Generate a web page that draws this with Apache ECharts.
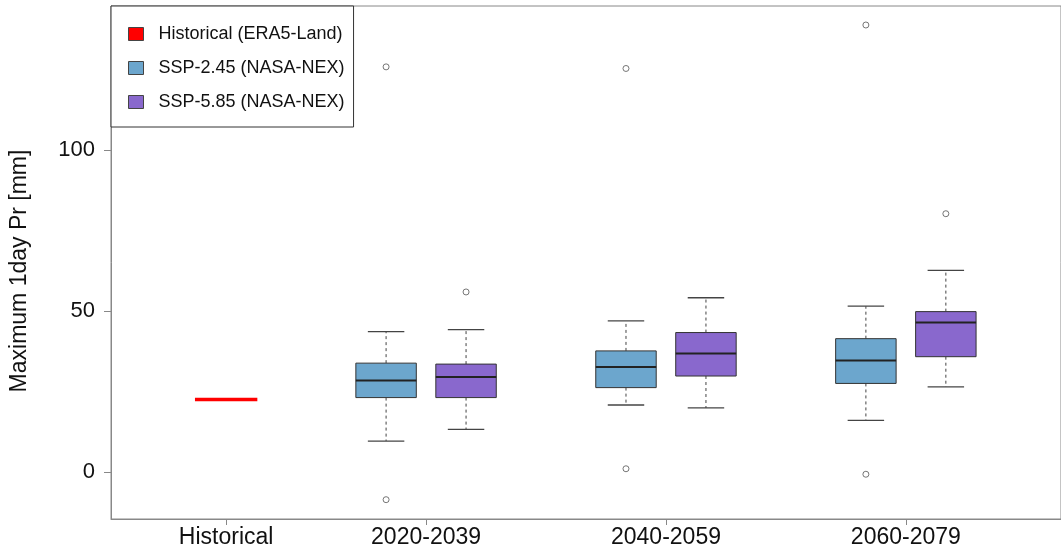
<!DOCTYPE html>
<html>
<head>
<meta charset="utf-8">
<script src="https://cdn.jsdelivr.net/npm/echarts@6/dist/echarts.min.js"></script>
<style>
  html, body { margin: 0; padding: 0; background: #fff; }
  #chart { width: 1061px; height: 551px; }
</style>
</head>
<body>
<div id="chart"></div>
<script>
// Annual maximum 1-day precipitation: historical reference vs. projections
const periods = ['2020-2039', '2040-2059', '2060-2079'];
const historicalLabel = 'Historical';
const historicalValue = 22.5;

// five-number summaries: [lower whisker, Q1, median, Q3, upper whisker]
const ssp245Stats = [
  [9.6, 23.1, 28.4, 33.8, 43.6],
  [20.8, 26.2, 32.6, 37.6, 46.9],
  [16.0, 27.5, 34.6, 41.4, 51.5]
];
const ssp585Stats = [
  [13.2, 23.1, 29.5, 33.5, 44.2],
  [19.9, 29.8, 36.8, 43.3, 54.1],
  [26.4, 35.8, 46.4, 49.8, 62.6]
];
// values beyond the whiskers
const ssp245Outliers = [[-8.6, 125.8], [1.0, 125.3], [-0.7, 138.8]];
const ssp585Outliers = [[55.9], [], [80.2]];

const yTicks = [0, 50, 100];
const yTitle = 'Maximum 1day Pr [mm]';
const seriesNames = ['Historical (ERA5-Land)', 'SSP-2.45 (NASA-NEX)', 'SSP-5.85 (NASA-NEX)'];
const colors = ['#FF0000', '#6CA6CD', '#8968CD'];

// x layout: historical at 1, each period takes two slots (3/4, 6/7, 9/10)
const histPos = 1;
const boxPos = (i, k) => 3 + 3 * i + k;
const labelPositions = [histPos].concat(periods.map((_, i) => boxPos(i, 0) + 0.5));
const labelNames = [historicalLabel].concat(periods);

const FONT = "'Liberation Sans', Arial, sans-serif";
const BOX_HALF = 0.378;
const CAP_HALF = 0.228;
const HIST_HALF = 0.39;

function boxData(stats, k) {
  return stats.map((s, i) => [boxPos(i, k)].concat(s));
}
function outlierData(list, k) {
  const out = [];
  list.forEach((vals, i) => vals.forEach(v => out.push([boxPos(i, k), v])));
  return out;
}

function renderBox(fill) {
  return function (params, api) {
    const p = api.value(0);
    const lo = api.value(1), q1 = api.value(2), med = api.value(3), q3 = api.value(4), hi = api.value(5);
    const c = (x, y) => api.coord([x, y]);
    const whisk = { stroke: '#444', lineWidth: 1, lineDash: [3, 3] };
    const cap = { stroke: '#444', lineWidth: 1.3 };
    const tl = c(p - BOX_HALF, q3), br = c(p + BOX_HALF, q1);
    const a = c(p, q3), b = c(p, hi), d = c(p, q1), e = c(p, lo);
    const cl1 = c(p - CAP_HALF, hi), cr1 = c(p + CAP_HALF, hi);
    const cl2 = c(p - CAP_HALF, lo), cr2 = c(p + CAP_HALF, lo);
    const ml = c(p - BOX_HALF, med), mr = c(p + BOX_HALF, med);
    return {
      type: 'group',
      children: [
        { type: 'line', shape: { x1: a[0], y1: a[1], x2: b[0], y2: b[1] }, style: whisk },
        { type: 'line', shape: { x1: d[0], y1: d[1], x2: e[0], y2: e[1] }, style: whisk },
        { type: 'line', shape: { x1: cl1[0], y1: cl1[1], x2: cr1[0], y2: cr1[1] }, style: cap },
        { type: 'line', shape: { x1: cl2[0], y1: cl2[1], x2: cr2[0], y2: cr2[1] }, style: cap },
        { type: 'rect', shape: { x: tl[0], y: tl[1], width: br[0] - tl[0], height: br[1] - tl[1] },
          style: { fill: fill, stroke: '#333', lineWidth: 1 } },
        { type: 'line', shape: { x1: ml[0], y1: ml[1], x2: mr[0], y2: mr[1] },
          style: { stroke: '#222', lineWidth: 2 } }
      ]
    };
  };
}

function renderHistorical(params, api) {
  const p = api.value(0), v = api.value(1);
  const l = api.coord([p - HIST_HALF, v]), r = api.coord([p + HIST_HALF, v]);
  return { type: 'line', shape: { x1: l[0], y1: l[1], x2: r[0], y2: r[1] },
           style: { stroke: colors[0], lineWidth: 3.5 } };
}

const outlierStyle = { color: '#fff', borderColor: '#555', borderWidth: 1 };

const chart = echarts.init(document.getElementById('chart'), null, { renderer: 'canvas' });

chart.setOption({
  animation: false,
  backgroundColor: '#fff',
  textStyle: { fontFamily: FONT },
  grid: {
    left: 111, right: -10, top: 6, bottom: 32,
    show: true, borderColor: '#888', borderWidth: 1, backgroundColor: 'transparent'
  },
  graphic: [{
    type: 'text',
    x: 20, y: 271,
    rotation: Math.PI / 2,
    style: {
      text: yTitle, fontFamily: FONT, fontSize: 23, fill: '#111',
      align: 'center', verticalAlign: 'middle'
    }
  }],
  legend: {
    orient: 'vertical',
    left: 111, top: 6,
    padding: [18, 9, 15, 17],
    itemGap: 14,
    itemWidth: 15, itemHeight: 13,
    borderColor: '#333', borderWidth: 1,
    backgroundColor: '#fff',
    icon: 'rect',
    textStyle: { fontFamily: FONT, fontSize: 18, color: '#111', lineHeight: 20, padding: [0, 0, 0, 10] },
    data: seriesNames.map((n, i) => ({
      name: n,
      itemStyle: { color: colors[i], borderColor: '#444', borderWidth: 1 }
    }))
  },
  xAxis: {
    type: 'value',
    min: -0.44, max: 11.44,
    splitLine: { show: false },
    axisLine: { show: true, onZero: false, lineStyle: { color: '#888', width: 1 } },
    axisTick: { show: true, length: 6, customValues: labelPositions, lineStyle: { color: '#888' } },
    axisLabel: {
      customValues: labelPositions,
      formatter: v => labelNames[labelPositions.indexOf(v)] || '',
      fontFamily: FONT, fontSize: 23, color: '#111', margin: 7
    }
  },
  yAxis: {
    type: 'value',
    min: -14.6, max: 144.7,
    splitLine: { show: false },
    axisLine: { show: true, onZero: false, lineStyle: { color: '#888', width: 1 } },
    axisTick: { show: true, length: 7, customValues: yTicks, lineStyle: { color: '#888' } },
    axisLabel: {
      customValues: yTicks,
      fontFamily: FONT, fontSize: 22, color: '#111', margin: 16
    }
  },
  series: [
    {
      name: seriesNames[0], type: 'custom', renderItem: renderHistorical,
      itemStyle: { color: colors[0] },
      encode: { x: 0, y: 1 },
      data: [[histPos, historicalValue]], z: 3
    },
    {
      name: seriesNames[1], type: 'custom', renderItem: renderBox(colors[1]),
      itemStyle: { color: colors[1] },
      encode: { x: 0, y: [1, 2, 3, 4, 5] },
      data: boxData(ssp245Stats, 0), z: 3
    },
    {
      name: seriesNames[2], type: 'custom', renderItem: renderBox(colors[2]),
      itemStyle: { color: colors[2] },
      encode: { x: 0, y: [1, 2, 3, 4, 5] },
      data: boxData(ssp585Stats, 1), z: 3
    },
    {
      type: 'scatter', symbol: 'circle', symbolSize: 6,
      itemStyle: outlierStyle,
      data: outlierData(ssp245Outliers, 0), z: 4
    },
    {
      type: 'scatter', symbol: 'circle', symbolSize: 6,
      itemStyle: outlierStyle,
      data: outlierData(ssp585Outliers, 1), z: 4
    }
  ]
});
</script>
</body>
</html>
